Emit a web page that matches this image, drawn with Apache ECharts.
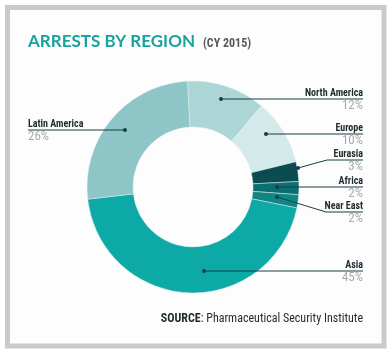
<!DOCTYPE html>
<html>
<head>
<meta charset="utf-8">
<script src="https://cdn.jsdelivr.net/npm/echarts@6/dist/echarts.min.js"></script>
<style>
html,body{margin:0;padding:0;background:#ffffff;}
#chart{width:390px;height:355px;}
</style>
</head>
<body>
<div id="chart"></div>
<script>
// ---- data ----
const categories = ['North America', 'Europe', 'Eurasia', 'Africa', 'Near East', 'Asia', 'Latin America'];
const shares = [12, 10, 3, 2, 2, 45, 26];
const sliceColors = ['#acd6d6', '#d4e9e9', '#0b4c50', '#0b6e70', '#0f8584', '#0ca9a6', '#8ec6c7'];

// ---- label layout (annotation placement only) ----
const labelAnchors = [
  { dot: [221, 99],  bend: null,       lineY: 99,  x: 363, side: 'right' },
  { dot: [266, 134], bend: null,       lineY: 134, x: 363, side: 'right' },
  { dot: [298, 168], bend: [327, 160], lineY: 160, x: 363, side: 'right' },
  { dot: [277, 187], bend: null,       lineY: 187, x: 363, side: 'right' },
  { dot: [277, 197], bend: [326, 212], lineY: 212, x: 363, side: 'right' },
  { dot: [204, 271], bend: null,       lineY: 271, x: 363, side: 'right' },
  { dot: [125, 130], bend: null,       lineY: 130, x: 28,  side: 'left' }
];

const cond = "'Roboto Condensed', 'DejaVu Sans Condensed', sans-serif";
const lineColor = '#163f44';
const ringCenter = [193, 187];
const ringRadius = [60, 106];

const chart = echarts.init(document.getElementById('chart'), null, { renderer: 'canvas' });

const basePie = {
  type: 'pie',
  center: ringCenter,
  radius: ringRadius,
  startAngle: 93,
  clockwise: true,
  avoidLabelOverlap: false,
  emphasis: { disabled: true }
};

chart.setOption({
  animation: false,
  backgroundColor: '#ffffff',
  graphic: {
    elements: [{
      type: 'rect', z: -100, silent: true,
      shape: { x: 7.5, y: 7.5, width: 376.5, height: 338.5 },
      style: { fill: '#fdfdfd', stroke: '#c8cbcb', lineWidth: 5 }
    }]
  },
  title: [
    {
      left: 28, top: 33, padding: 0,
      text: '{a|ARRESTS BY REGION} {b|(CY 2015)}',
      textStyle: {
        rich: {
          a: { fontFamily: "'Lato', sans-serif", fontWeight: 'bold', fontSize: 17, color: '#17a39e' },
          b: { fontFamily: cond, fontWeight: 'bold', fontSize: 12, color: '#55595b', padding: [3, 0, 0, 3] }
        }
      }
    },
    {
      right: 27, top: 313, padding: 0,
      text: '{s|SOURCE}{t|: Pharmaceutical Security Institute}',
      textStyle: {
        rich: {
          s: { fontFamily: cond, fontWeight: 'bold', fontSize: 12, color: '#1f2a2c' },
          t: { fontFamily: cond, fontWeight: 'normal', fontSize: 12, color: '#1f2a2c' }
        }
      }
    }
  ],
  series: [
    Object.assign({}, basePie, {
      data: categories.map((c, i) => ({ name: c, value: shares[i], itemStyle: { color: sliceColors[i] } })),
      itemStyle: { borderColor: '#e3f0f0', borderWidth: 0.5 },
      label: { show: false },
      labelLine: { show: false }
    }),
    Object.assign({}, basePie, {
      z: 5, silent: true,
      data: categories.map((c, i) => ({ name: c, value: shares[i] })),
      itemStyle: { color: 'rgba(0,0,0,0)' },
      label: {
        show: true,
        position: 'outside',
        formatter: p => '{n|' + p.name + '}\n{p|' + p.value + '%}',
        rich: {
          n: { fontFamily: cond, fontWeight: 'bold', fontSize: 10, color: '#1f2a2c', lineHeight: 12 },
          p: { fontFamily: cond, fontWeight: 'normal', fontSize: 13, color: '#aaaaaa', lineHeight: 14 }
        }
      },
      labelLine: { show: true, lineStyle: { color: lineColor, width: 1 } },
      labelLayout: function (params) {
        const a = labelAnchors[params.dataIndex];
        return {
          x: a.x, y: a.lineY - 12,
          align: a.side, verticalAlign: 'top',
          labelLinePoints: [a.dot, a.bend ? a.bend : a.dot, [a.x, a.lineY]]
        };
      }
    }),
    Object.assign({}, basePie, {
      z: 6, silent: true,
      data: categories.map((c, i) => ({ name: c, value: shares[i] })),
      itemStyle: { color: 'rgba(0,0,0,0)' },
      label: {
        show: true,
        position: 'inside',
        formatter: ' ',
        fontSize: 1,
        width: 4, height: 4,
        backgroundColor: lineColor,
        borderRadius: 2,
        padding: 0
      },
      labelLine: { show: false },
      labelLayout: function (params) {
        const a = labelAnchors[params.dataIndex];
        return { x: a.dot[0], y: a.dot[1], align: 'center', verticalAlign: 'middle' };
      }
    })
  ]
});
</script>
</body>
</html>
